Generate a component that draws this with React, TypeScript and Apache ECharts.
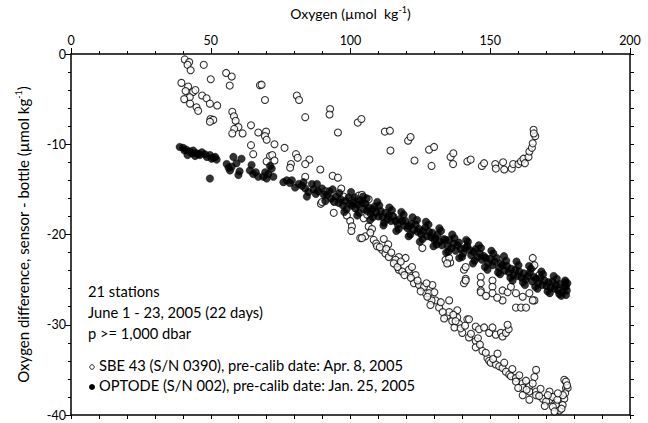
import React, { useEffect, useRef } from "react";
import * as echarts from "echarts";

const xTickLabels = ["0", "50", "100", "150", "200"];
const yTickLabels = ["0", "-10", "-20", "-30", "-40"];

const annotationLines = ["21 stations", "June 1 - 23, 2005 (22 days)", "p >= 1,000 dbar"];
const sbeLabel = "SBE 43 (S/N 0390), pre-calib date: Apr. 8, 2005";
const optodeLabel = "OPTODE (S/N 002), pre-calib date: Jan. 25, 2005";

// SBE 43 (open circles): [oxygen, sensor - bottle]
const sbe43: [number, number][] = [
  [40.7, -0.6], [42.3, -0.9], [41.7, -1.2], [42.8, -1.8], [47.5, -1.2], [50.0, -2.8], [55.5, -2.1], [57.5, -2.5],
  [56.8, -3.5], [39.5, -3.2], [41.9, -3.6], [41.0, -4.1], [43.7, -4.2], [44.5, -4.0], [42.5, -4.8], [40.5, -5.0],
  [42.6, -5.5], [44.9, -5.9], [45.5, -6.3], [46.9, -4.6], [48.5, -4.9], [49.7, -5.5], [52.3, -5.7], [49.9, -7.2],
  [50.9, -7.3], [49.7, -7.5], [57.7, -6.4], [58.3, -6.9], [58.9, -7.4], [59.9, -8.1], [58.4, -8.3], [57.7, -8.8],
  [61.4, -8.8], [64.4, -7.9], [67.0, -8.7], [69.8, -8.6], [69.4, -9.1], [70.0, -9.5], [72.8, -10.0], [76.4, -10.4],
  [67.6, -3.45], [68.2, -3.4], [69.4, -5.1], [80.8, -4.6], [81.6, -5.1], [83.8, -7.0], [92.7, -6.1], [92.5, -6.7],
  [95.5, -8.7], [102.6, -7.6], [103.9, -7.2], [112.3, -8.6], [114.1, -8.5], [114.3, -10.7], [120.6, -9.6], [121.5, -9.2],
  [122.9, -11.8], [128.1, -10.6], [129.9, -10.3], [129.0, -12.4], [135.8, -11.4], [136.8, -11.0], [136.7, -12.2],
  [141.8, -11.9], [143.0, -11.7], [147.0, -12.4], [147.8, -12.1], [151.8, -12.2], [152.0, -12.7], [154.6, -12.0],
  [155.0, -12.8], [157.7, -12.7], [158.2, -12.2], [160.1, -12.2], [161.0, -11.9], [161.9, -11.6], [162.4, -12.1],
  [163.7, -11.4], [164.0, -10.8], [164.9, -10.4], [165.2, -9.9], [166.1, -9.1], [165.5, -8.4], [165.6, -8.8],
  [64.4, -10.1], [65.2, -11.1], [71.2, -11.3], [72.0, -11.2], [70.0, -11.9], [72.8, -11.8], [80.5, -11.1], [81.1, -11.5],
  [78.7, -12.2], [78.4, -12.6], [85.3, -11.7], [83.8, -12.2], [83.8, -13.6], [89.2, -12.8], [93.6, -13.5], [95.5, -13.7],
  [96.7, -14.9], [89.4, -16.6], [94.0, -17.6], [94.2, -16.4], [98.7, -17.9], [99.9, -18.5], [100.5, -19.1], [100.3, -19.6],
  [103.5, -20.4], [102.9, -15.7], [104.1, -15.6], [106.5, -16.1], [101.7, -17.1], [104.7, -18.2], [106.5, -19.1],
  [107.7, -19.4], [105.3, -20.2], [104.1, -20.4], [108.3, -20.6], [107.1, -19.8], [109.2, -21.0], [111.9, -20.5],
  [113.5, -21.1], [109.5, -21.3], [111.3, -21.7], [112.5, -22.1], [113.7, -22.5], [117.3, -22.5], [119.7, -22.6],
  [125.7, -21.5], [116.1, -22.8], [117.3, -23.9], [120.9, -24.3], [123.3, -24.5], [122.7, -25.4], [125.7, -25.8],
  [126.9, -26.5], [129.3, -25.6], [118.5, -24.1], [120.9, -23.9], [124.5, -25.6], [126.3, -25.8], [128.1, -26.5],
  [130.4, -27.3], [131.7, -28.1], [135.3, -27.3], [134.6, -29.0], [136.4, -29.6], [135.3, -28.6], [138.2, -28.4],
  [138.2, -29.2], [138.8, -29.9], [141.8, -29.4], [142.4, -29.4], [144.8, -30.2], [146.0, -30.5], [147.8, -30.3],
  [149.6, -30.9], [150.8, -30.3], [152.0, -31.1], [153.8, -30.9], [154.4, -31.3], [155.6, -30.9], [156.6, -30.5],
  [156.2, -30.0], [137.2, -30.3], [133.0, -28.6], [129.0, -27.3], [127.5, -26.9],
  [140.0, -30.9], [142.4, -31.4], [144.8, -31.8], [144.8, -32.5], [147.2, -32.9], [149.0, -33.7], [149.6, -34.0],
  [150.2, -34.2], [152.0, -34.4], [153.2, -34.6], [154.4, -34.8], [155.6, -35.2], [156.8, -35.5], [157.4, -35.7],
  [159.2, -35.9], [159.2, -36.3], [161.6, -36.5], [161.6, -37.0], [164.0, -36.8], [164.0, -37.4], [166.4, -37.4],
  [166.4, -37.8], [168.8, -38.2], [171.2, -38.3], [173.5, -38.9], [174.7, -39.5], [176.5, -38.2], [177.1, -37.0],
  [176.5, -36.1], [161.6, -37.8], [164.0, -38.3], [171.2, -37.4], [172.4, -38.0], [166.4, -35.0], [165.8, -35.8],
  [170.0, -38.5], [172.4, -39.1], [175.9, -38.9], [177.7, -37.0], [177.1, -36.3], [165.2, -36.5], [163.0, -37.2],
  [167.5, -37.9], [169.5, -39.0], [173.0, -39.6], [175.5, -39.3], [176.8, -37.6], [177.5, -36.7],
  [110.5, -21.4], [112.8, -21.6], [114.6, -22.0], [115.5, -23.2], [116.8, -23.6], [118.0, -23.0], [119.3, -24.5],
  [121.6, -24.8], [122.0, -23.6], [124.0, -25.1], [125.1, -26.3], [127.2, -25.4], [128.6, -27.8], [130.0, -26.4],
  [132.3, -27.5], [133.5, -29.3], [136.8, -28.9], [137.6, -29.6], [139.4, -30.4], [141.0, -30.1], [143.1, -31.0],
  [145.6, -31.5], [146.3, -32.2], [148.4, -33.1], [151.0, -33.8], [152.6, -33.2], [155.0, -34.2], [157.9, -34.9],
  [160.4, -35.6], [162.8, -36.2], [168.0, -37.1], [170.6, -37.8], [174.0, -38.3], [176.0, -37.8], [174.2, -37.6],
  [160.0, -37.0],
  [89.8, -16.4], [91.0, -15.2], [97.5, -15.8], [100.5, -16.2], [109.0, -17.5], [115.0, -18.0], [106.0, -17.8],
  [134.0, -22.8], [135.7, -23.1], [135.3, -22.6], [134.6, -23.2], [140.6, -23.9], [141.2, -24.9], [140.6, -25.4],
  [141.2, -23.6], [141.2, -25.1], [146.6, -24.7], [146.6, -25.4], [146.6, -26.2], [146.6, -26.4], [150.8, -25.1],
  [150.8, -25.8], [150.8, -26.5], [154.4, -26.2], [154.4, -27.3], [156.2, -26.4], [157.4, -25.8], [159.2, -26.5],
  [161.6, -26.9], [164.0, -26.5], [159.2, -28.1], [161.0, -28.1], [162.8, -28.1], [165.2, -22.6], [165.2, -23.6],
  [165.8, -23.4], [165.8, -27.3], [167.6, -24.5], [165.2, -27.3], [152.5, -27.0], [148.5, -26.8],
];

// OPTODE (filled circles): [oxygen, sensor - bottle]
const optode: [number, number][] = [
  [38.9, -10.3], [40.1, -10.4], [40.6, -10.7], [41.3, -10.6], [41.7, -11.2], [42.5, -10.8], [43.2, -11.0], [43.7, -10.7],
  [44.4, -11.3], [44.9, -11.0], [45.6, -11.1], [46.1, -11.2], [46.8, -10.9], [47.9, -11.1], [48.6, -11.4], [49.7, -11.2],
  [50.3, -11.6], [50.9, -11.5], [51.6, -11.4], [52.1, -11.7], [49.7, -13.8], [55.7, -12.2], [56.4, -12.6], [57.5, -12.5],
  [56.9, -12.9], [58.1, -11.4], [61.0, -11.6], [59.9, -13.4], [60.3, -13.0], [59.2, -12.1], [64.6, -12.3], [64.0, -12.9],
  [65.2, -13.3], [66.1, -13.1], [67.0, -13.6], [68.8, -13.6], [69.5, -13.1], [70.6, -13.3], [71.8, -12.7], [72.4, -13.6],
  [70.0, -13.8], [71.2, -12.4], [76.0, -14.2], [77.2, -14.0], [78.3, -14.3], [79.0, -14.0], [80.2, -14.8], [81.5, -14.4],
  [82.6, -14.6], [83.8, -14.9], [83.2, -14.2], [85.0, -15.3], [86.2, -14.4], [86.8, -15.0], [87.6, -15.5], [88.4, -15.2],
  [89.8, -14.9], [90.5, -15.6], [91.6, -15.6], [92.4, -15.2], [93.1, -16.0], [94.0, -16.3], [94.8, -15.8], [95.8, -16.5],
  [96.5, -16.1], [97.3, -16.8], [98.1, -16.3], [99.3, -15.9], [99.8, -16.6], [100.5, -16.8], [101.2, -16.4], [102.0, -17.1],
  [102.7, -16.7], [103.4, -16.2], [104.1, -16.5], [104.8, -17.2], [105.3, -16.6], [106.0, -17.4], [106.5, -17.0],
  [107.2, -17.7], [107.9, -17.2], [108.6, -16.9], [109.2, -17.6], [110.0, -18.0], [110.8, -17.4], [111.5, -18.1],
  [112.5, -17.6], [113.2, -18.3], [113.7, -17.9], [114.5, -18.5], [115.3, -18.0], [116.1, -18.5], [116.9, -18.9],
  [117.6, -18.3], [118.5, -18.5], [119.2, -19.0], [119.7, -18.5], [120.4, -19.3], [120.9, -19.1], [121.8, -18.8],
  [122.6, -19.5], [123.3, -18.9], [124.0, -19.7], [124.5, -19.4], [125.3, -20.0], [126.0, -19.6], [126.8, -19.2],
  [127.5, -20.2], [128.1, -19.7], [128.9, -20.3], [129.3, -19.8], [130.0, -20.6], [130.4, -20.4], [131.2, -20.0],
  [132.0, -20.8], [132.7, -21.2], [133.4, -20.5], [134.0, -20.6], [134.8, -21.3], [135.3, -20.6], [136.1, -21.5],
  [136.9, -21.0], [137.6, -21.8], [138.3, -21.2], [138.8, -20.9], [139.5, -21.6], [140.3, -22.1], [141.0, -21.5],
  [141.8, -21.3], [142.4, -21.7], [143.2, -22.3], [144.0, -21.9], [144.8, -21.6], [145.5, -22.5], [146.3, -22.1],
  [147.0, -22.8], [147.7, -22.4], [148.4, -22.6], [149.2, -23.2], [150.0, -22.7], [150.8, -23.4], [151.5, -23.0],
  [152.3, -22.6], [153.1, -23.7], [153.8, -23.2], [154.4, -23.4], [155.2, -24.0], [156.0, -23.5], [156.7, -24.2],
  [157.5, -23.8], [158.3, -24.5], [159.0, -23.9], [159.8, -24.6], [160.4, -24.1], [161.2, -24.8], [162.0, -24.3],
  [162.7, -25.0], [163.5, -24.6], [164.2, -24.2], [165.0, -25.2], [165.7, -24.7], [166.4, -24.9], [167.2, -25.4],
  [167.9, -24.8], [168.6, -25.6], [169.4, -25.1], [170.1, -25.7], [170.9, -25.3], [171.6, -25.9], [172.3, -25.2],
  [173.0, -26.0], [173.5, -25.6], [174.3, -26.2], [175.0, -25.5], [175.8, -26.4], [176.4, -25.8], [177.1, -25.8],
  [177.1, -26.7], [176.8, -25.1], [177.4, -26.2],
  [96.0, -15.4], [98.6, -17.2], [101.5, -15.9], [103.0, -17.6], [105.8, -16.0], [108.0, -18.1], [110.3, -16.8],
  [112.0, -18.7], [114.8, -17.3], [117.2, -19.4], [119.0, -17.8], [121.4, -20.0], [123.8, -18.4], [125.8, -20.5],
  [127.9, -18.9], [130.8, -21.1], [132.4, -19.6], [135.0, -21.9], [137.2, -20.4], [139.9, -22.5], [142.0, -20.8],
  [144.4, -22.9], [146.7, -21.5], [149.0, -23.9], [151.1, -22.1], [153.5, -24.4], [155.7, -22.9], [158.0, -25.1],
  [160.1, -23.4], [162.4, -25.6], [164.6, -23.8], [166.9, -26.0], [168.9, -24.4], [171.3, -26.5], [173.8, -24.9],
  [175.4, -26.8], [176.9, -25.3],
  [84.4, -15.8], [88.0, -14.4], [91.0, -16.3], [93.6, -15.0], [97.8, -17.5], [100.2, -15.3], [102.4, -17.9],
  [104.5, -15.8], [107.0, -18.4], [109.6, -16.4], [111.8, -19.0], [113.9, -17.0], [116.4, -19.6], [118.2, -17.5],
  [120.8, -20.2], [122.2, -18.1], [124.8, -20.8], [127.0, -18.6], [129.7, -21.3], [131.8, -19.3], [134.2, -22.0],
  [136.4, -20.0], [138.9, -22.6], [141.4, -20.6], [143.8, -23.2], [145.9, -21.2], [148.1, -23.6], [150.4, -21.8],
  [152.8, -24.2], [154.9, -22.4], [157.2, -24.8], [159.4, -23.0], [161.7, -25.3], [163.9, -23.5], [166.1, -25.8],
  [168.3, -24.1], [170.5, -26.3], [172.7, -24.6], [174.7, -26.6], [177.6, -25.4],
];

const FONT = "Lato, 'Noto Sans', sans-serif";

export default function App() {
  const ref = useRef<HTMLDivElement>(null);
  useEffect(() => {
    if (!ref.current) return;
    const chart = echarts.init(ref.current, null, { renderer: "svg" });
    const axisLine = { show: true, onZero: false, lineStyle: { color: "#000", width: 1.5 } };
    const tickStyle = { color: "#000", width: 1 };
    const rich = (fs: number) => ({
      u: { fontSize: fs, fontFamily: FONT, color: "#000" },
      sup: { fontSize: 9, fontFamily: FONT, color: "#000", verticalAlign: "top", padding: [0, 0, 8, 0] },
    });
    chart.setOption({
      animation: false,
      backgroundColor: "#fff",
      textStyle: { fontFamily: FONT },
      grid: { left: 71, right: 18, top: 54, bottom: 8, containLabel: false },
      xAxis: [
        {
          type: "value",
          position: "top",
          min: 0,
          max: 200,
          interval: 50,
          axisLine,
          axisTick: { show: true, inside: false, length: 6, lineStyle: tickStyle },
          minorTick: { show: true, splitNumber: 5, length: 3, lineStyle: tickStyle },
          splitLine: { show: false },
          axisLabel: {
            margin: 7,
            color: "#000",
            fontSize: 12.5,
            fontFamily: FONT,
            formatter: (v: number) => xTickLabels[Math.round(v / 50)] ?? "",
          },
          name: "Oxygen ({u|µmol}  kg{sup|-1})",
          nameLocation: "middle",
          nameGap: 32,
          nameTextStyle: { color: "#000", fontSize: 14, fontFamily: FONT, rich: rich(14) },
        },
        {
          type: "value",
          position: "bottom",
          min: 0,
          max: 200,
          interval: 10,
          axisLine,
          axisTick: { show: true, inside: false, length: 4, lineStyle: tickStyle },
          splitLine: { show: false },
          axisLabel: { show: false },
        },
      ],
      yAxis: [
        {
          type: "value",
          position: "left",
          min: -40,
          max: 0,
          interval: 10,
          axisLine,
          axisTick: { show: true, inside: false, length: 6, lineStyle: tickStyle },
          minorTick: { show: true, splitNumber: 5, length: 3, lineStyle: tickStyle },
          splitLine: { show: false },
          axisLabel: {
            margin: 5,
            color: "#000",
            fontSize: 12.5,
            fontFamily: FONT,
            formatter: (v: number) => yTickLabels[Math.round(-v / 10)] ?? "",
          },
          name: "Oxygen difference, sensor - bottle ({u|µmol} kg{sup|-1})",
          nameLocation: "middle",
          nameRotate: 90,
          nameGap: 40,
          nameTextStyle: { color: "#000", fontSize: 15, fontFamily: FONT, rich: rich(15) },
        },
        {
          type: "value",
          position: "right",
          min: -40,
          max: 0,
          interval: 2,
          axisLine,
          axisTick: { show: true, inside: false, length: 4, lineStyle: tickStyle },
          splitLine: { show: false },
          axisLabel: { show: false },
        },
      ],
      series: [
        {
          name: "SBE 43",
          type: "scatter",
          xAxisIndex: 0,
          yAxisIndex: 0,
          data: sbe43,
          symbol: "circle",
          symbolSize: 7,
          itemStyle: { color: "#fff", borderColor: "#000", borderWidth: 1.1 },
          silent: true,
        },
        {
          name: "OPTODE",
          type: "scatter",
          xAxisIndex: 0,
          yAxisIndex: 0,
          data: optode,
          symbol: "circle",
          symbolSize: 7.5,
          itemStyle: { color: "#000", borderColor: "#000", borderWidth: 0.5 },
          silent: true,
        },
      ],
      graphic: [
        ...annotationLines.map((t, i) => ({
          type: "text",
          left: 88,
          top: 283 + i * 21,
          style: { text: t, fill: "#000", font: `14.7px ${FONT}` },
        })),
        { type: "circle", shape: { cx: 92, cy: 367, r: 2.3 }, style: { fill: "#fff", stroke: "#000", lineWidth: 0.8 } },
        { type: "text", left: 99, top: 357, style: { text: sbeLabel, fill: "#000", font: `14.7px ${FONT}` } },
        { type: "circle", shape: { cx: 92, cy: 387, r: 3 }, style: { fill: "#000" } },
        { type: "text", left: 99, top: 377, style: { text: optodeLabel, fill: "#000", font: `14.7px ${FONT}` } },
      ],
    });
    return () => chart.dispose();
  }, []);
  return <div ref={ref} style={{ width: 648, height: 423, position: "fixed", left: 0, top: 0 }} />;
}
